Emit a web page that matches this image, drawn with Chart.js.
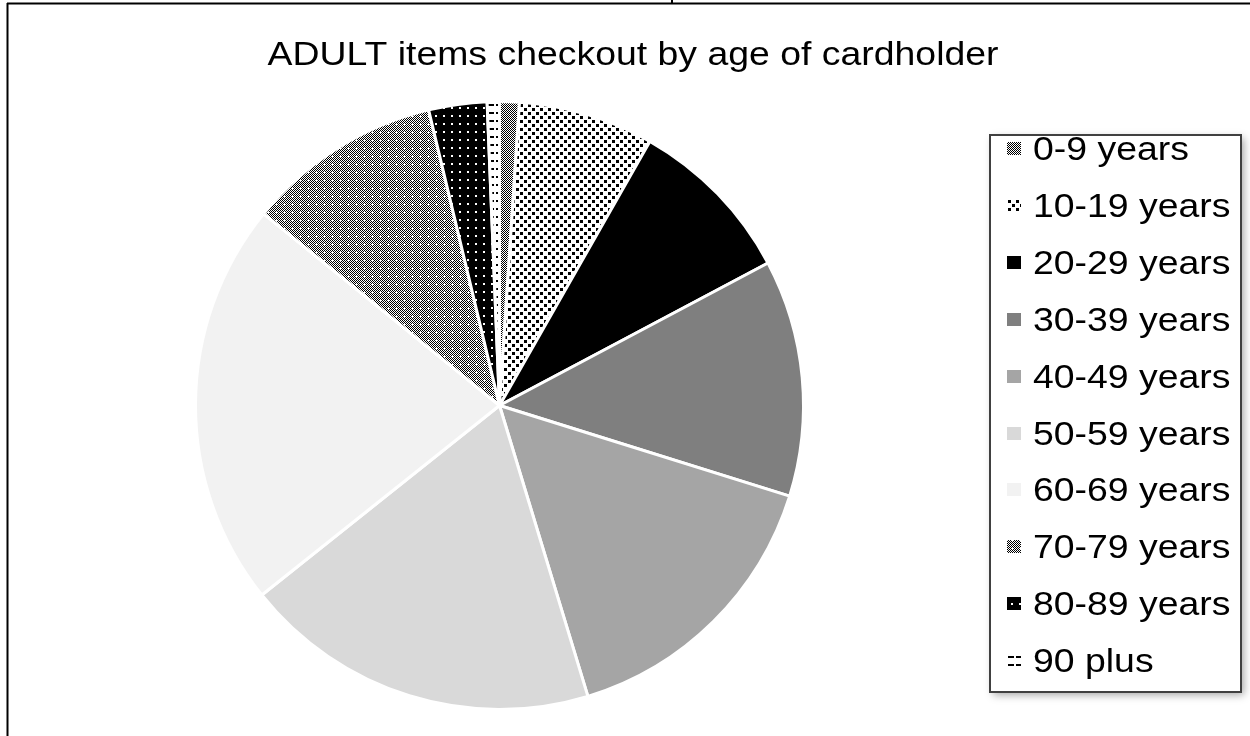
<!DOCTYPE html>
<html>
<head>
<meta charset="utf-8">
<script src="https://cdn.jsdelivr.net/npm/chart.js@4.4.1/dist/chart.umd.min.js"></script>
<style>
	html, body { margin: 0; padding: 0; background: #fff; }
	#pie { display: block; }
</style>
</head>
<body>
<canvas id="pie" width="1250" height="736"></canvas>
<script>
// Share of ADULT items checked out, by age group (percent)
const ageGroups = ['0-9 years', '10-19 years', '20-29 years', '30-39 years', '40-49 years',
	'50-59 years', '60-69 years', '70-79 years', '80-89 years', '90 plus'];
const checkoutShare = [1.05, 7.2, 9.0, 12.6, 15.5, 19.0, 21.6, 10.4, 3.1, 0.65];
const chartTitle = 'ADULT items checkout by age of cardholder';

const font = '"Liberation Sans", Arial, sans-serif';
const stretch = 1.1; // text in the picture is a little wider than Arial

let pieContext = document.getElementById('pie').getContext('2d');

function makePattern(size, bg, draw) {
	let tile = document.createElement('canvas');
	tile.width = size;
	tile.height = size;
	let t = tile.getContext('2d');
	t.fillStyle = bg;
	t.fillRect(0, 0, size, size);
	t.fillStyle = bg === '#000' ? '#fff' : '#000';
	draw(t);
	return pieContext.createPattern(tile, 'repeat');
}

// fine checker (0-9)
let denseChecker = makePattern(2, '#fff', function(t) {
	t.fillRect(0, 0, 1, 1);
	t.fillRect(1, 1, 1, 1);
});
// small squares on white (10-19)
let confetti = makePattern(8, '#fff', function(t) {
	t.fillRect(0, 0, 3, 3);
	t.fillRect(4, 4, 3, 3);
});
// checker with a few holes (70-79)
let openChecker = makePattern(8, '#fff', function(t) {
	for(let y = 0; y < 8; y++) {
		for(let x = 0; x < 8; x++) {
			if((x + y) % 2 === 0 && !(x === 4 && y === 4)) {
				t.fillRect(x, y, 1, 1);
			}
		}
	}
});
// white dots on black (80-89)
let dots = makePattern(8, '#000', function(t) {
	t.fillRect(3, 3, 2, 2);
});
// horizontal dashes (90 plus)
let dashes = makePattern(8, '#fff', function(t) {
	t.fillRect(0, 0, 6, 2);
});

const sliceFills = [denseChecker, confetti, '#000000', '#7f7f7f', '#a5a5a5',
	'#d9d9d9', '#f2f2f2', openChecker, dots, dashes];

function stretchedText(ctx, text, x, y) {
	ctx.save();
	ctx.translate(x, y);
	ctx.scale(stretch, 1);
	ctx.fillText(text, 0, 0);
	ctx.restore();
}

const decorations = {
	id: 'decorations',
	afterDraw: function(chart) {
		const ctx = chart.ctx;
		ctx.save();

		// outer frame (only top and left edges show)
		ctx.strokeStyle = '#000';
		ctx.lineWidth = 2;
		ctx.beginPath();
		ctx.moveTo(7, 3.5);
		ctx.lineTo(1250, 3.5);
		ctx.moveTo(7.5, 3);
		ctx.lineTo(7.5, 736);
		ctx.moveTo(672, 0);
		ctx.lineTo(672, 3);
		ctx.stroke();

		// title
		ctx.fillStyle = '#000';
		ctx.font = '34px ' + font;
		ctx.textAlign = 'left';
		ctx.textBaseline = 'alphabetic';
		let w = ctx.measureText(chartTitle).width * stretch;
		stretchedText(ctx, chartTitle, 633 - w / 2, 65);

		// legend box with shadow
		ctx.save();
		ctx.shadowColor = 'rgba(0,0,0,0.35)';
		ctx.shadowBlur = 8;
		ctx.shadowOffsetX = 3;
		ctx.shadowOffsetY = 3;
		ctx.fillStyle = '#fff';
		ctx.fillRect(990, 135, 251, 557);
		ctx.restore();
		ctx.strokeStyle = '#404040';
		ctx.lineWidth = 2;
		ctx.strokeRect(990, 135, 251, 557);

		// legend entries
		const labels = chart.data.labels;
		const fills = chart.data.datasets[0].backgroundColor;
		for(let i = 0; i < labels.length; i++) {
			let cy = 148 + i * 56.9;
			ctx.fillStyle = fills[i];
			ctx.fillRect(1007, Math.round(cy - 6), 14, 13);
			ctx.fillStyle = '#000';
			stretchedText(ctx, labels[i], 1033, cy + 12);
		}

		ctx.restore();
	}
};

const config = {
	type: 'pie',
	data: {
		labels: ageGroups,
		datasets: [
			{
				data: checkoutShare,
				backgroundColor: sliceFills,
				borderColor: '#fff',
				borderWidth: 3,
			}
		],
	},
	options: {
		responsive: false,
		animation: false,
		layout: {
			padding: { left: 194, right: 445, top: 100, bottom: 25 },
		},
		plugins: {
			legend: { display: false },
			title: { display: false },
			tooltip: { enabled: false },
		},
	},
	plugins: [decorations],
};

let pieChart = new Chart(pieContext, config);
</script>
</body>
</html>
